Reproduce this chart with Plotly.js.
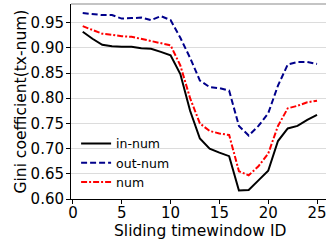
<!DOCTYPE html>
<html><head><meta charset="utf-8">
<script src="https://cdn.plot.ly/plotly-3.0.1.min.js"></script>
<style>html,body{margin:0;padding:0;background:#fff}#chart{width:326px;height:243px}</style>
</head><body><div id="chart"></div>
<script>
const windowIds = [1,2,3,4,5,6,7,8,9,10,11,12,13,14,15,16,17,18,19,20,21,22,23,24,25];
const inNum = [0.932,0.918,0.906,0.903,0.902,0.902,0.899,0.898,0.892,0.885,0.848,0.775,0.720,0.700,0.692,0.685,0.617,0.618,0.637,0.656,0.715,0.740,0.745,0.757,0.767];
const outNum = [0.969,0.967,0.965,0.965,0.958,0.959,0.960,0.955,0.963,0.955,0.920,0.880,0.835,0.822,0.820,0.815,0.745,0.726,0.745,0.770,0.825,0.867,0.872,0.872,0.868];
const num = [0.943,0.935,0.928,0.926,0.923,0.922,0.918,0.913,0.910,0.905,0.865,0.800,0.750,0.735,0.730,0.727,0.655,0.647,0.665,0.690,0.745,0.780,0.785,0.792,0.795];
const seriesNames = ['in-num','out-num','num'];
const xTicks = [0,5,10,15,20,25];
const yTicks = [0.60,0.65,0.70,0.75,0.80,0.85,0.90,0.95];
const xTitle = 'Sliding timewindow ID';
const yTitle = 'Gini coefficient(tx-num)';

const traces = [
  {x: windowIds, y: inNum, name: seriesNames[0], mode: 'lines', line: {color: '#000000', width: 2}},
  {x: windowIds, y: outNum, name: seriesNames[1], mode: 'lines', line: {color: '#00008b', width: 2, dash: '6px,3px'}},
  {x: windowIds, y: num, name: seriesNames[2], mode: 'lines', line: {color: '#ff0000', width: 2, dash: '6px,2px,2px,2px'}}
];
const font = {family: 'DejaVu Sans, sans-serif', size: 15.5, color: '#000'};
const tickFont = {family: 'DejaVu Sans, sans-serif', size: 15, color: '#000'};
const layout = {
  width: 326, height: 243,
  margin: {l: 71, r: 0, t: 4, b: 44},
  paper_bgcolor: '#fff', plot_bgcolor: '#fff',
  font: font,
  showlegend: true,
  legend: {x: 0.02, y: 0.36, xanchor: 'left', yanchor: 'top', font: {family: 'DejaVu Sans, sans-serif', size: 12.5, color: '#000'}, bgcolor: 'rgba(0,0,0,0)', tracegroupgap: 0, itemwidth: 30},
  xaxis: {
    range: [-0.2, 25.92], tickvals: xTicks, ticktext: xTicks.map(String),
    showgrid: false, zeroline: false, showline: true, linecolor: '#000', linewidth: 1,
    ticks: 'outside', ticklen: 4, tickcolor: '#000',
    tickfont: tickFont, ticklabeloverflow: 'allow', ticklabelstandoff: -4
  },
  yaxis: {
    range: [0.6, 0.987], tickvals: yTicks, ticktext: yTicks.map(v => v.toFixed(2)),
    showgrid: true, gridcolor: '#dcdcdc', gridwidth: 1, zeroline: false,
    showline: true, linecolor: '#000', linewidth: 1,
    ticks: 'outside', ticklen: 4, tickcolor: '#000',
    tickfont: tickFont, ticklabelstandoff: -1
  },
  annotations: [
    {text: xTitle, xref: 'paper', yref: 'paper', x: 0.506, y: -0.165, xanchor: 'center', yanchor: 'middle', showarrow: false, font: font},
    {text: yTitle, xref: 'paper', yref: 'paper', x: -0.2, y: 0.5, xanchor: 'center', yanchor: 'middle', textangle: -90, showarrow: false, font: font}
  ],
  shapes: [{type: 'line', xref: 'paper', yref: 'paper', x0: 0, x1: 1, y0: 1, y1: 1, line: {color: '#b0b0b0', width: 1.5}}]
};
Plotly.newPlot('chart', traces, layout, {displayModeBar: false, staticPlot: true});
</script></body></html>
